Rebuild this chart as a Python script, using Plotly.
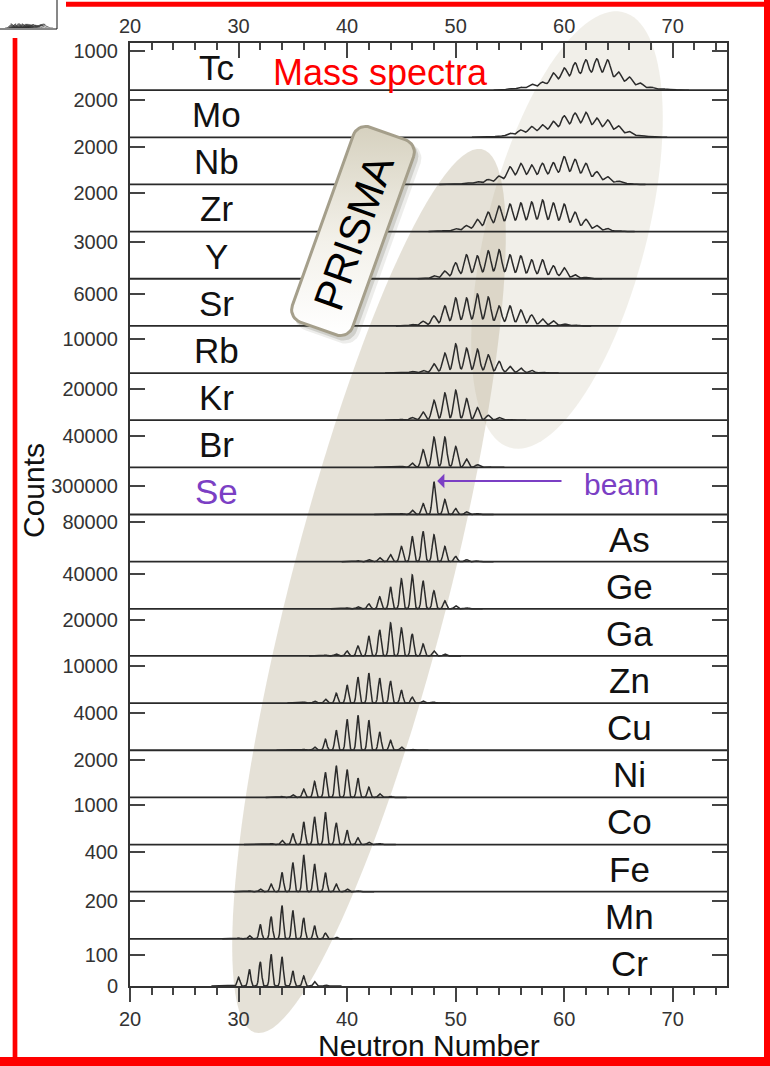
import numpy as np
import plotly.graph_objects as go

W, H = 770, 1066
# plot box in pixels (left, right, top, bottom)
X0, X1, Y0, Y1 = 130, 727, 43, 986
XMIN, XMAX = 20, 75

# ---- spectra, listed from the top panel down ----
elements = ["Tc", "Mo", "Nb", "Zr", "Y", "Sr", "Rb", "Kr", "Br", "Se",
            "As", "Ge", "Ga", "Zn", "Cu", "Ni", "Co", "Fe", "Mn", "Cr"]
# neutron number of the first listed peak
n_start = [55, 53, 50, 49, 48, 46, 45, 45, 44, 44,
           41, 40, 38, 36, 35, 34, 32, 31, 30, 29]
# counts per neutron number
peak_counts = [
    [40, 76, 150, 204, 433, 560, 687, 763, 789, 763, 458, 330, 178, 76, 40, 20],          # Tc
    [27, 69, 212, 387, 567, 652, 832, 1129, 1272, 1309, 1007, 917, 599, 302, 122, 53],    # Mo
    [37, 90, 143, 265, 440, 938, 1113, 1023, 1113, 1150, 1468, 1325, 1113, 673, 408, 175, 53],  # Nb
    [53, 159, 318, 636, 1007, 1325, 1431, 1484, 1537, 1643, 1484, 1431, 1007, 636, 318, 159, 53],  # Zr
    [248, 637, 1323, 1985, 1902, 2316, 2398, 1985, 1902, 1571, 1571, 1075, 910, 331, 124],  # Y
    [286, 897, 1909, 3818, 5345, 5345, 6109, 5536, 3818, 3818, 3054, 2100, 1336, 955, 382, 191],  # Sr
    [203, 494, 785, 2703, 5812, 8515, 7265, 6974, 5318, 3400, 1947, 1453, 785, 291],     # Rb
    [636, 1718, 5281, 12726, 17371, 19089, 13808, 8081, 3182, 1718, 636],                 # Kr
    [636, 1273, 5472, 22523, 38557, 38557, 26723, 10562, 3436, 1273],                     # Br
    [5200, 10400, 44700, 114300, 339800, 155900, 62400, 28100, 10400],                    # Se
    [2036, 4072, 8144, 14252, 31150, 51511, 61691, 54972, 31150, 10791, 4072, 1425],      # As
    [1145, 2290, 5725, 13740, 25190, 34350, 38930, 32060, 20610, 9160, 3435, 1145],       # Ge
    [558, 1116, 2789, 5578, 11156, 14503, 18407, 15618, 12272, 6694, 2789, 1116],         # Ga
    [272, 543, 1086, 2715, 4887, 7059, 8145, 6788, 5973, 3530, 1629, 543, 272],           # Zn
    [53, 106, 350, 1166, 2120, 3286, 3710, 3180, 1940, 1060, 350, 106],                   # Cu
    [53, 143, 440, 848, 1325, 1680, 1468, 1023, 546, 196, 53],                            # Ni
    [13, 25, 109, 280, 578, 705, 822, 552, 364, 171, 59, 25],                             # Co
    [10, 27, 78, 196, 295, 374, 282, 193, 78, 27, 10],                                    # Fe
    [5, 17, 76, 118, 177, 150, 111, 70, 30, 9],                                           # Mn
    [2, 28, 53, 77, 101, 93, 48, 32, 14, 3],                                              # Cr
]
# counts at the top edge of each panel
panel_top = [1200, 2500, 2500, 2450, 3900, 9000, 13700, 30000, 60000, 490000,
             96000, 54000, 26300, 12800, 5000, 2500, 1200, 480, 250, 150]
# labelled count on each panel's axis
tick_value = [1000, 2000, 2000, 2000, 3000, 6000, 10000, 20000, 40000, 300000,
              80000, 40000, 20000, 10000, 4000, 2000, 1000, 400, 200, 100]
# peak width (neutron-number units) of each mass spectrum
peak_sigma = [0.32, 0.32, 0.30, 0.28, 0.25, 0.24, 0.22, 0.20, 0.18, 0.15,
              0.15, 0.14, 0.14, 0.13, 0.13, 0.13, 0.13, 0.13, 0.12, 0.12]

FONT = "Liberation Sans, Arial, sans-serif"
LINE = "#2b2b2b"
PURPLE = "#7b3fc4"
n_panels = len(elements)


def px_x(px):
    return XMIN + (px - X0) / (X1 - X0) * (XMAX - XMIN)


def px_y(py):
    return (Y1 - py) / (Y1 - Y0) * n_panels


def spectrum(i):
    n = n_start[i] + np.arange(len(peak_counts[i]))
    h = np.array(peak_counts[i], dtype=float)
    x = np.arange(n[0] - 1.5, n[-1] + 1.5, 0.01)
    s = peak_sigma[i]
    y = (h[None, :] * np.exp(-(x[:, None] - n[None, :]) ** 2 / (2 * s * s))).sum(axis=1)
    return x, y


fig = go.Figure()

# stacked spectra
for i, el in enumerate(elements):
    j = n_panels - 1 - i
    x, c = spectrum(i)
    fig.add_trace(go.Scatter(x=x, y=j + c / panel_top[i], mode="lines",
                             line=dict(color=LINE, width=1.5), hoverinfo="skip",
                             showlegend=False))

# dummy trace so the top axis is drawn
fig.add_trace(go.Scatter(x=[XMIN, XMAX], y=[0, 0], xaxis="x2", yaxis="y", mode="markers",
                         marker=dict(opacity=0), hoverinfo="skip", showlegend=False))

# small thumbnail strip in the corner
for i in range(0, n_panels, 2):
    x, c = spectrum(i)
    fig.add_trace(go.Scatter(x=x, y=c / panel_top[i], mode="lines", xaxis="x3", yaxis="y3",
                             line=dict(color="#333", width=0.6), hoverinfo="skip",
                             showlegend=False))


# ---- PRISMA tag: rotated rounded box ----
def rounded_box(cx, cy, w, h, r, theta_deg, dx=0.0, dy=0.0, grow=0.0):
    t = np.radians(theta_deg)
    w2, h2 = w / 2 + grow, h / 2 + grow
    rr = r + grow
    pts = []
    for (ux, vy, a0) in [(w2 - rr, h2 - rr, 0), (-(w2 - rr), h2 - rr, 90),
                         (-(w2 - rr), -(h2 - rr), 180), (w2 - rr, -(h2 - rr), 270)]:
        for a in np.radians(np.linspace(a0, a0 + 90, 10)):
            pts.append((ux + rr * np.cos(a), vy + rr * np.sin(a)))
    pts.append(pts[0])
    xs, ys = [], []
    for u, v in pts:
        px = cx + dx + u * np.cos(t) + v * np.sin(t)
        py = cy + dy + u * np.sin(t) - v * np.cos(t)
        xs.append(px_x(px))
        ys.append(px_y(py))
    return xs, ys


BOX = dict(cx=353, cy=231, w=64, h=207, r=13, theta_deg=19.7)
for dx, dy, g, a in [(5, 6, 2, 0.10), (3, 4, 1, 0.18)]:
    xs, ys = rounded_box(**BOX, dx=dx, dy=dy, grow=g)
    fig.add_trace(go.Scatter(x=xs, y=ys, mode="lines", fill="toself",
                             fillcolor=f"rgba(80,75,60,{a})", line=dict(width=0),
                             hoverinfo="skip", showlegend=False))
xs, ys = rounded_box(**BOX)
fig.add_trace(go.Scatter(x=xs, y=ys, mode="lines", fill="toself",
                         fillgradient=dict(type="vertical",
                                           colorscale=[[0, "#ffffff"], [0.45, "#f3f1ea"], [1, "#d6d1bf"]]),
                         line=dict(color="#a59f8b", width=3), hoverinfo="skip",
                         showlegend=False))


# ---- shaded ellipses (pixel geometry -> paper coordinates) ----
def ellipse_path(cx, cy, a, b, tilt_deg):
    t = np.radians(tilt_deg)
    s = np.linspace(0, 2 * np.pi, 120)
    u, v = b * np.cos(s), a * np.sin(s)
    px = cx + u * np.cos(t) + v * np.sin(t)
    py = cy + u * np.sin(t) - v * np.cos(t)
    pts = [f"{x / W:.5f},{1 - y / H:.5f}" for x, y in zip(px, py)]
    return "M " + " L ".join(pts) + " Z"


shapes = [
    dict(type="path", xref="paper", yref="paper", layer="below",
         path=ellipse_path(369, 591, 456, 79, 14.4),
         fillcolor="rgba(180,168,140,0.35)", line=dict(width=0)),
    dict(type="path", xref="paper", yref="paper", layer="below",
         path=ellipse_path(567, 230, 225, 80, 14.5),
         fillcolor="rgba(180,168,140,0.19)", line=dict(width=0)),
]
# panel separators
for j in range(1, n_panels):
    shapes.append(dict(type="line", xref="x", yref="y", layer="below",
                       x0=XMIN, x1=XMAX, y0=j, y1=j, line=dict(color="#2a2a2a", width=1.8)))
# red frame
RED = "#ff0000"
shapes += [
    dict(type="line", xref="paper", yref="paper", x0=15 / W, x1=15 / W, y0=1 - 38 / H, y1=0,
         line=dict(color=RED, width=4.7)),
    dict(type="line", xref="paper", yref="paper", x0=66 / W, x1=1, y0=1 - 4.2 / H, y1=1 - 4.2 / H,
         line=dict(color=RED, width=5)),
    dict(type="line", xref="paper", yref="paper", x0=767 / W, x1=767 / W, y0=1, y1=0,
         line=dict(color=RED, width=6)),
    dict(type="line", xref="paper", yref="paper", x0=0, x1=1, y0=1 - 1061.5 / H, y1=1 - 1061.5 / H,
         line=dict(color=RED, width=9)),
    dict(type="rect", xref="paper", yref="paper", x0=-0.01, x1=57 / W, y0=1 - 29 / H, y1=1.01,
         line=dict(color="#111", width=1), fillcolor="rgba(0,0,0,0)"),
]

# ---- y ticks: one labelled count per panel (plus zero on the bottom one) ----
tickvals, ticktext = [0], ["0"]
for i in range(n_panels):
    j = n_panels - 1 - i
    tickvals.append(j + tick_value[i] / panel_top[i])
    ticktext.append(f"{tick_value[i]}")

annotations = []
for i, el in enumerate(elements):
    j = n_panels - 1 - i
    annotations.append(dict(x=28 if i < 10 else 66, y=j + 0.48, xref="x", yref="y",
                            text=el, showarrow=False, xanchor="center", yanchor="middle",
                            font=dict(size=35, color=PURPLE if el == "Se" else "#111", family=FONT)))
annotations += [
    dict(x=px_x(380), y=px_y(72), xref="x", yref="y", text="Mass spectra", showarrow=False,
         xanchor="center", yanchor="middle", font=dict(size=36, color=RED, family=FONT)),
    dict(x=px_x(621), y=px_y(484), xref="x", yref="y", text="beam", showarrow=False,
         xanchor="center", yanchor="middle", font=dict(size=30, color=PURPLE, family=FONT)),
    dict(x=48.3, y=px_y(481), ax=px_x(563), ay=px_y(481), xref="x", yref="y", axref="x", ayref="y",
         text="", showarrow=True, arrowhead=1, arrowsize=1.2, arrowwidth=2, arrowcolor=PURPLE),
    dict(x=px_x(353), y=px_y(233), xref="x", yref="y", text="PRISMA", showarrow=False,
         xanchor="center", yanchor="middle",
         textangle=-70.3, font=dict(size=42, color="#000", family=FONT)),
    dict(x=33 / W, y=1 - 491 / H, xref="paper", yref="paper", text="Counts", showarrow=False,
         xanchor="center", yanchor="middle",
         textangle=-90, font=dict(size=30, color="#111", family=FONT)),
    dict(x=429 / W, y=1 - 1045 / H, xref="paper", yref="paper", text="Neutron Number",
         xanchor="center", yanchor="middle",
         showarrow=False, font=dict(size=30, color="#111", family=FONT)),
]

tick_font = dict(size=20, color="#333", family=FONT)
xcommon = dict(range=[XMIN, XMAX], tickvals=[20, 30, 40, 50, 60, 70], showgrid=False, zeroline=False,
               showline=True, linecolor="#333", linewidth=2, tickcolor="#444", tickwidth=1.5,
               tickfont=tick_font, automargin=False)

fig.update_layout(
    width=W, height=H, margin=dict(l=0, r=0, t=0, b=0),
    paper_bgcolor="white", plot_bgcolor="white", showlegend=False,
    xaxis=dict(domain=[X0 / W, X1 / W], anchor="y", ticks="outside", ticklen=14,
               minor=dict(dtick=2, tick0=20, ticks="outside", ticklen=7, tickcolor="#444", tickwidth=1.5),
               **xcommon),
    xaxis2=dict(overlaying="x", side="top", anchor="y", matches="x", ticks="inside", ticklen=15,
                minor=dict(dtick=2, tick0=20, ticks="inside", ticklen=7, tickcolor="#444", tickwidth=1.5),
                **xcommon),
    yaxis=dict(domain=[1 - Y1 / H, 1 - Y0 / H], range=[0, n_panels], tickvals=tickvals, ticktext=ticktext,
               ticks="inside", ticklen=15, tickwidth=1.5, tickcolor="#444", mirror="ticks",
               showline=True, linecolor="#333", linewidth=2, showgrid=False, zeroline=False,
               tickfont=tick_font, ticklabelstandoff=6, automargin=False),
    xaxis3=dict(domain=[0, 57 / W], range=[24, 75], visible=False, anchor="y3"),
    yaxis3=dict(domain=[1 - 28 / H, 1 - 21 / H], range=[0, 1.1], visible=False, anchor="x3"),
    shapes=shapes, annotations=annotations,
)

fig.write_html("out.html")
